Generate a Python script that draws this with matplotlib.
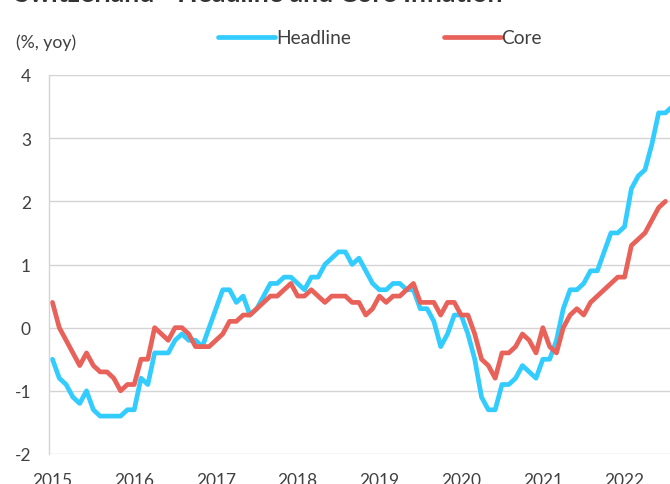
import matplotlib
matplotlib.use("Agg")
import matplotlib.pyplot as plt

# monthly yoy inflation, Jan 2015 onwards
headline = [-0.5, -0.8, -0.9, -1.1, -1.2, -1.0, -1.3, -1.4, -1.4, -1.4, -1.4, -1.3,
            -1.3, -0.8, -0.9, -0.4, -0.4, -0.4, -0.2, -0.1, -0.2, -0.2, -0.3, 0.0,
            0.3, 0.6, 0.6, 0.4, 0.5, 0.2, 0.3, 0.5, 0.7, 0.7, 0.8, 0.8,
            0.7, 0.6, 0.8, 0.8, 1.0, 1.1, 1.2, 1.2, 1.0, 1.1, 0.9, 0.7,
            0.6, 0.6, 0.7, 0.7, 0.6, 0.6, 0.3, 0.3, 0.1, -0.3, -0.1, 0.2,
            0.2, -0.1, -0.5, -1.1, -1.3, -1.3, -0.9, -0.9, -0.8, -0.6, -0.7, -0.8,
            -0.5, -0.5, -0.2, 0.3, 0.6, 0.6, 0.7, 0.9, 0.9, 1.2, 1.5, 1.5,
            1.6, 2.2, 2.4, 2.5, 2.9, 3.4, 3.4, 3.5]
core = [0.4, 0.0, -0.2, -0.4, -0.6, -0.4, -0.6, -0.7, -0.7, -0.8, -1.0, -0.9,
        -0.9, -0.5, -0.5, 0.0, -0.1, -0.2, 0.0, 0.0, -0.1, -0.3, -0.3, -0.3,
        -0.2, -0.1, 0.1, 0.1, 0.2, 0.2, 0.3, 0.4, 0.5, 0.5, 0.6, 0.7,
        0.5, 0.5, 0.6, 0.5, 0.4, 0.5, 0.5, 0.5, 0.4, 0.4, 0.2, 0.3,
        0.5, 0.4, 0.5, 0.5, 0.6, 0.7, 0.4, 0.4, 0.4, 0.2, 0.4, 0.4,
        0.2, 0.2, -0.1, -0.5, -0.6, -0.8, -0.4, -0.4, -0.3, -0.1, -0.2, -0.4,
        0.0, -0.3, -0.4, 0.0, 0.2, 0.3, 0.2, 0.4, 0.5, 0.6, 0.7, 0.8,
        0.8, 1.3, 1.4, 1.5, 1.7, 1.9, 2.0]
years = ["2015", "2016", "2017", "2018", "2019", "2020", "2021", "2022"]
yticks = [-2, -1, 0, 1, 2, 3, 4]

plt.rcParams['font.family'] = ['Lato', 'DejaVu Sans']
plt.rcParams['axes.unicode_minus'] = False
txt = '#404040'

fig = plt.figure(figsize=(6.7, 4.85), dpi=100)
ax = fig.add_axes([49/670, 1 - 455/485, 1 - 49/670, (455 - 76)/485])

ax.plot(range(len(headline)), headline, color='#33ccff', lw=3.4,
        solid_capstyle='round', solid_joinstyle='round', label='Headline')
ax.plot(range(len(core)), core, color='#e8625a', lw=3.4,
        solid_capstyle='round', solid_joinstyle='round', label='Core')

ax.set_xlim(-0.51, 90.67)
ax.set_ylim(-2, 4)
ax.set_xticks([12*i for i in range(len(years))])
ax.set_xticklabels(years)
ax.set_yticks(yticks)
ax.set_yticklabels([str(v) for v in yticks])
ax.tick_params(length=0, labelsize=12.5, colors=txt, pad=13)
ax.grid(axis='y', color='#d4d4d4', lw=1)
ax.set_axisbelow(True)
for s in ['top', 'right', 'bottom']:
    ax.spines[s].set_visible(False)
ax.spines['left'].set_color('#d4d4d4')
ax.spines['left'].set_linewidth(1)

fig.text(16/670, 1 - 43/485, "(%, yoy)", fontsize=12.7, color=txt, va='center')
# title sits mostly above the top edge, only its lower part shows
fig.text(15/670, 1 - 1.5/485, "Switzerland - Headline and Core Inflation",
         fontsize=19.2, fontweight='bold', color='#333333', va='baseline')

leg = fig.legend(loc='center left', bbox_to_anchor=(218/670, 1 - 39/485),
                 ncol=2, frameon=False, fontsize=13.8, handlelength=2.97,
                 handletextpad=0.05, columnspacing=4.85, borderpad=0, borderaxespad=0)
for t in leg.get_texts():
    t.set_color(txt)

fig.savefig("out.png", dpi=100)
